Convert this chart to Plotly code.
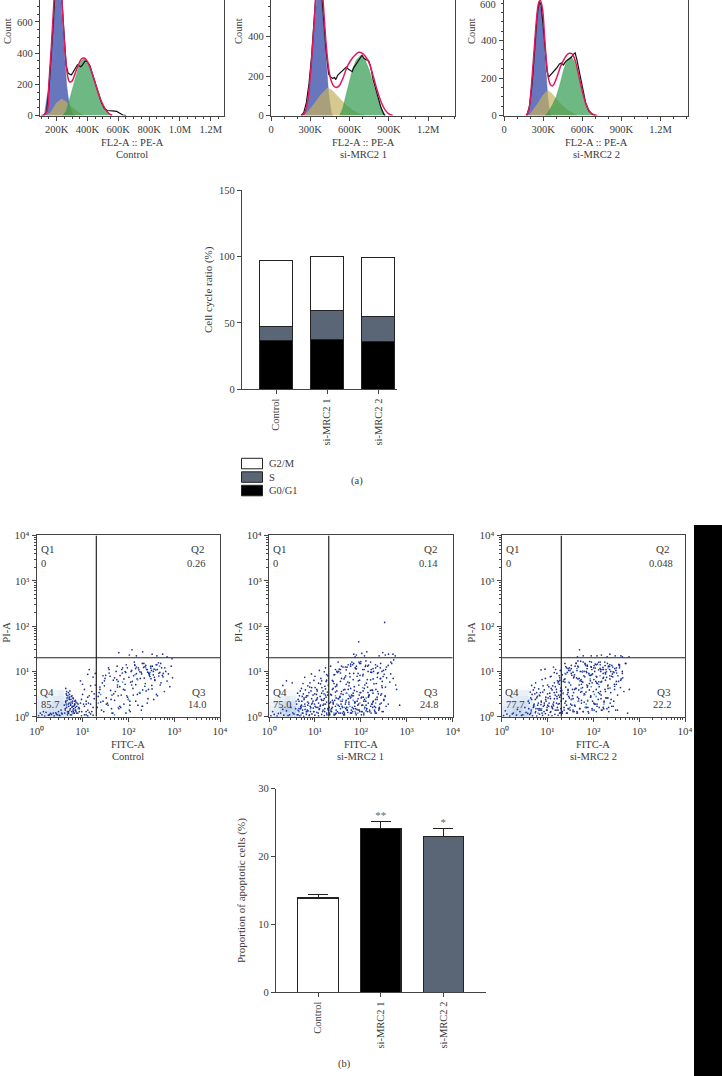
import plotly.graph_objects as go

W, H = 722, 1076
SERIF = "Liberation Serif"
INK = "#3a3a3a"

# ---- Flow histograms: x in thousands, y in counts ----
ctrl_g1_x = [120, 130, 150, 165, 180, 195, 207, 220, 235, 250, 265, 280, 300, 320]
ctrl_g1_y = [0, 59, 203, 400, 644, 842, 900, 832, 627, 385, 192, 78, 17, 0]
ctrl_s_x = [135, 160, 180, 200, 232, 260, 290, 320, 350, 380]
ctrl_s_y = [0, 18, 50, 82, 105, 90, 60, 35, 14, 0]
ctrl_g2_x = [240, 260, 280, 300, 320, 340, 360, 375, 395, 415, 435, 455, 475, 495, 515, 535, 560]
ctrl_g2_y = [0, 25, 90, 160, 235, 305, 350, 365, 350, 310, 250, 185, 125, 75, 40, 15, 0]
ctrl_fit_x = [100, 120, 140, 150, 165, 180, 195, 207, 220, 235, 250, 265, 275, 285, 300, 320, 340, 360, 380, 400, 420, 440, 460, 480, 500, 520, 540, 560]
ctrl_fit_y = [0, 5, 35, 211, 430, 690, 910, 985, 925, 730, 470, 300, 235, 215, 220, 270, 320, 362, 368, 345, 300, 240, 175, 115, 70, 35, 12, 2]
ctrl_raw_x = [115, 135, 150, 165, 180, 195, 205, 220, 235, 250, 262, 275, 285, 295, 305, 320, 335, 345, 355, 365, 375, 385, 400, 415, 430, 450, 470, 490, 510, 530, 560, 590, 610, 630, 650]
ctrl_raw_y = [0, 25, 170, 390, 680, 900, 1000, 940, 720, 480, 320, 270, 265, 260, 275, 300, 325, 318, 312, 320, 335, 350, 345, 320, 275, 210, 140, 85, 45, 32, 30, 26, 15, 3, 0]

mrc1_g1_x = [250, 270, 290, 310, 330, 350, 362, 380, 400, 420, 440, 460, 470]
mrc1_g1_y = [0, 40, 130, 290, 480, 640, 690, 640, 470, 270, 110, 15, 0]
mrc1_s_x = [250, 290, 330, 380, 432, 470, 520, 570, 620, 670, 720]
mrc1_s_y = [0, 25, 60, 105, 140, 125, 90, 55, 28, 10, 0]
mrc1_g2_x = [525, 550, 575, 600, 625, 650, 686, 720, 750, 780, 810, 840, 875]
mrc1_g2_y = [0, 40, 110, 180, 240, 280, 305, 280, 230, 160, 95, 40, 0]
mrc1_fit_x = [235, 255, 280, 300, 320, 340, 362, 380, 400, 420, 440, 460, 480, 500, 520, 550, 580, 610, 640, 670, 690, 720, 750, 780, 810, 840, 870, 900, 930]
mrc1_fit_y = [0, 10, 75, 200, 380, 580, 800, 740, 560, 370, 240, 175, 148, 142, 150, 190, 245, 280, 305, 320, 318, 300, 265, 200, 130, 70, 30, 8, 0]
mrc1_raw_x = [230, 250, 270, 290, 310, 330, 350, 370, 385, 400, 420, 440, 455, 470, 485, 495, 510, 525, 540, 560, 575, 590, 605, 620, 630, 645, 660, 680, 695, 710, 725, 745, 760, 780, 800, 820, 840, 860, 870]
mrc1_raw_y = [0, 15, 65, 160, 300, 480, 680, 760, 650, 500, 330, 210, 195, 188, 192, 182, 205, 215, 225, 240, 245, 235, 228, 222, 240, 255, 268, 295, 305, 290, 282, 278, 250, 180, 130, 80, 40, 8, 0]

mrc2_g1_x = [175, 195, 215, 235, 250, 265, 275, 290, 305, 320, 335, 350, 360]
mrc2_g1_y = [0, 40, 160, 340, 490, 585, 605, 540, 400, 240, 100, 15, 0]
mrc2_s_x = [190, 220, 260, 300, 334, 370, 410, 450, 490, 530, 560]
mrc2_s_y = [0, 25, 65, 110, 135, 115, 80, 50, 27, 10, 0]
mrc2_g2_x = [315, 340, 370, 400, 430, 455, 480, 510, 535, 560, 585, 610, 635, 660, 685]
mrc2_g2_y = [0, 20, 55, 100, 170, 240, 290, 315, 295, 240, 170, 100, 50, 18, 0]
mrc2_fit_x = [170, 190, 210, 230, 250, 265, 278, 295, 310, 325, 340, 355, 370, 385, 410, 435, 460, 480, 500, 520, 540, 565, 590, 615, 640, 665, 695, 715]
mrc2_fit_y = [0, 30, 160, 340, 520, 600, 615, 570, 430, 290, 200, 165, 158, 170, 215, 265, 300, 322, 332, 330, 305, 240, 160, 90, 40, 15, 3, 0]
mrc2_raw_x = [175, 195, 215, 235, 255, 270, 285, 300, 315, 330, 342, 355, 370, 385, 405, 425, 440, 455, 475, 495, 515, 530, 545, 558, 575, 600, 625, 650, 675, 700]
mrc2_raw_y = [0, 50, 170, 350, 540, 610, 590, 480, 340, 235, 205, 215, 225, 240, 255, 275, 280, 270, 290, 300, 310, 325, 335, 300, 240, 140, 70, 25, 8, 0]

# ---- Stacked cell cycle bars ----
groups = ["Control", "si-MRC2 1", "si-MRC2 2"]
g0g1_pct = [36.5, 37.5, 36]
s_pct = [11, 21.5, 19]
g2m_pct = [49.5, 41, 44]

# ---- Apoptosis bars ----
apoptotic_pct = [13.9, 24.1, 23.0]
apoptotic_err = [0.5, 1.1, 1.2]
apoptotic_marks = ["", "**", "*"]

# ---- Annexin scatter points ----
ctrl_x = [4.1, 4.3, 4.5, 4.8, 5.0, 5.2, 5.5, 5.8, 6.1, 6.4, 6.8, 7.2, 7.6, 4.2, 4.6, 4.9, 5.3, 5.7, 6.0, 6.5, 7.0, 4.4, 4.7, 5.1, 5.4, 5.9, 6.3, 6.9, 4.0, 4.5, 5.0, 5.6, 6.2, 6.7, 7.4, 8.0, 8.5, 9.0, 4.3, 5.2,
          1.1, 1.3, 1.5, 1.8, 2.1, 2.4, 2.8, 3.2, 3.6, 1.2, 1.6, 2.0, 2.6, 3.0, 3.4, 9.5, 11, 13, 15, 17, 12, 14,
          8.5, 9.5, 10, 11, 12, 13, 14, 15, 16, 17, 18, 19, 11, 13, 15, 17, 10, 12, 14, 9, 16, 18, 19, 13,
          21, 23, 25, 27, 29, 31, 33, 36, 38, 41, 44, 47, 50, 54, 58, 62, 66, 70, 75, 80, 85, 90, 96, 103, 110, 118, 126, 135, 145, 155, 166, 178, 190, 204, 218, 234, 250, 268, 287, 307, 329, 352, 377, 404, 432, 463, 496, 531, 569, 610, 653, 700, 750, 803, 860, 922,
          22, 26, 30, 35, 40, 46, 52, 60, 68, 78, 88, 100, 112, 128, 144, 162, 182, 205, 230, 258, 290, 325, 365, 410, 460, 515, 578,
          24, 32, 43, 56, 72, 92, 118, 150, 192, 245, 312, 398, 508, 28, 37, 48, 65, 85, 108, 138, 175, 222, 282, 358, 455,
          62, 105, 120, 150, 205, 330, 420, 560, 700, 900]
ctrl_y = [1.2, 2.1, 1.6, 2.9, 1.3, 2.4, 1.8, 1.1, 2.2, 1.5, 1.9, 1.3, 2.0, 1.5, 2.6, 1.9, 1.4, 2.8, 1.7, 1.2, 2.3, 3.2, 1.3, 2.0, 1.1, 1.6, 2.5, 1.4, 1.8, 3.6, 1.2, 2.1, 1.4, 1.8, 1.2, 1.9, 1.3, 2.0, 4.2, 3.1,
          1.05, 1.1, 1.03, 1.08, 1.12, 1.04, 1.1, 1.06, 1.15, 1.2, 1.25, 1.18, 1.22, 1.3, 1.4, 1.05, 1.1, 1.04, 1.15, 1.08, 1.3, 1.25,
          1.5, 2.4, 3.1, 1.7, 2.2, 1.4, 2.9, 1.9, 3.6, 1.6, 2.5, 5.0, 4.0, 2.7, 4.8, 7.5, 5.2, 1.9, 11, 6.2, 1.3, 3.2, 9.0, 8.6,
          1.6, 3.4, 2.1, 5.6, 1.3, 7.0, 2.6, 1.8, 9.2, 3.8, 1.2, 6.4, 2.3, 10, 4.5, 1.5, 8.1, 3.0, 12, 1.9, 5.2, 14, 2.7, 7.4, 1.3, 10.5, 4.2, 16, 2.2, 6.8, 12, 3.3, 9.6, 1.7, 15, 5.4, 11, 2.5, 8.2, 13, 4.1, 10, 6.3, 14, 2.9, 9.1, 5.0, 12, 7.6, 3.6, 10, 6.1, 8.8, 4.6, 13, 7.2,
          2.8, 1.4, 4.8, 2.0, 7.8, 1.2, 3.6, 6.0, 1.6, 4.0, 9.5, 2.4, 5.8, 3.0, 11.5, 1.8, 7.0, 3.9, 12.8, 2.0, 8.6, 4.9, 11.2, 3.1, 7.9, 5.6, 9.0,
          4.0, 8.2, 1.5, 6.6, 11, 2.9, 5.0, 8.9, 1.4, 3.7, 6.9, 10.8, 15, 2.2, 12, 3.2, 4.6, 9.9, 1.8, 13.6, 3.4, 7.1, 9.3, 2.4, 15.5,
          26, 23, 30, 22, 27, 24, 22, 24, 21, 19]
ctrl_more_x = [4.2, 4.4, 4.6, 4.8, 5.0, 5.2, 5.4, 5.6, 5.8, 6.0,
               6.2, 6.4, 6.6, 6.8, 7.0, 7.2, 4.3, 4.7, 5.1, 5.5,
               5.9, 6.3, 6.7, 7.1, 7.5, 7.9, 8.3, 4.5, 4.9, 5.3,
               1.4, 1.9, 2.3, 2.7, 3.1, 3.5, 9.6, 10.5, 12, 13.5,
               24, 28, 33, 38, 44, 50, 57, 65, 74, 84,
               95, 108, 122, 138, 157, 178, 202, 229, 260, 295,
               334, 379, 430, 487, 552, 625, 115, 150, 195, 240,
               280, 320, 370, 420, 130, 170, 215, 265, 310, 350,
               30, 42, 58, 80, 105, 145, 200, 275, 60, 88]
ctrl_more_y = [1.4, 1.9, 2.3, 1.2, 1.7, 2.7, 1.5, 2.4, 1.3, 2.0,
               2.6, 1.7, 1.2, 2.2, 1.6, 2.1, 2.2, 1.1, 2.5, 1.9,
               2.9, 1.3, 1.9, 1.4, 1.7, 1.2, 1.6, 3.0, 3.4, 3.7,
               1.3, 1.1, 1.2, 1.15, 1.08, 1.2, 1.3, 1.9, 1.1, 2.0,
               4.5, 8.0, 1.9, 11, 3.0, 7.2, 13, 1.7, 9.2, 3.9,
               12, 2.2, 6.0, 14, 3.1, 9.8, 15, 4.7, 11, 7.7,
               13, 6.5, 11, 9.5, 8.2, 12, 10, 12.5, 8.8, 13.5,
               9.0, 10.5, 7.4, 14, 8.0, 10.8, 12.2, 9.6, 11.8, 8.4,
               6.2, 2.4, 5.0, 6.8, 1.4, 5.1, 1.7, 4.0, 2.9, 1.2]
ctrl_light_x = [25, 50, 75, 100, 140, 180, 240, 300, 400, 480, 6, 5, 4.5, 8, 60, 90, 160, 22]
ctrl_light_y = [3.1, 1.1, 5.8, 2.4, 8.5, 3.4, 12, 9.5, 11, 13, 1.2, 2.6, 1.8, 1.5, 1.6, 1.2, 6.5, 2.0]

mrc1_x = [1.1, 1.3, 1.5, 1.8, 2.1, 2.4, 2.8, 3.3, 3.8, 1.2, 1.6, 2.0, 2.6, 3.0, 3.5, 4.1, 4.4, 4.7, 5.0, 5.3, 5.7, 6.1, 6.5, 7.0, 7.5, 8.0, 8.6, 9.2, 10, 11, 12, 13, 14, 15, 16, 17, 18, 19,
          4.0, 4.3, 4.6, 4.9, 5.2, 5.6, 6.0, 6.4, 6.9, 7.4, 7.9, 8.5, 9.1, 9.8, 10.5, 11.2, 12, 13, 14, 15, 16, 17, 18, 19,
          4.2, 4.8, 5.4, 6.2, 7.1, 8.2, 9.4, 10.8, 12.4, 14.2, 16.3, 18.7, 4.5, 5.1, 5.8, 6.7, 7.7, 8.8, 10.1, 11.6, 13.3, 15.3, 17.5, 5.5, 6.6, 7.8, 9.5, 11, 13.5, 15.8, 18, 19.5,
          6, 7, 8.5, 10, 12, 14, 16, 18, 12.5, 15, 17, 19, 11, 13.8, 16.5, 2.0, 2.4, 3.2, 8.4, 9.9, 17,
          21, 22, 23, 24, 25, 26, 27, 28, 29, 30, 32, 33, 35, 36, 38, 40, 42, 44, 46, 48, 50, 52, 55, 57, 60, 63, 66, 69, 72, 75, 79, 83, 87, 91, 95, 100, 105, 110, 116, 122, 128, 134, 141, 148, 155, 163, 171, 180, 189, 198, 208, 218, 229, 240, 252, 265, 278, 292, 307, 322, 338, 355,
          21, 23, 25, 27, 29, 31, 34, 37, 40, 43, 47, 51, 55, 60, 65, 70, 76, 82, 89, 96, 104, 113, 122, 132, 143, 155, 168, 182, 197, 213, 231, 250, 271, 293, 317, 344,
          22, 24, 26, 28, 30, 33, 36, 39, 42, 45, 49, 53, 58, 63, 68, 74, 80, 87, 94, 102, 110, 119, 129, 140, 152, 164, 178, 193, 209, 226, 245, 265, 287, 311, 337, 365, 395, 428,
          20.5, 22, 25, 28, 32, 36, 41, 47, 53, 60, 68, 77, 87, 99, 112, 127, 144, 163, 185, 210, 238, 270, 306, 347, 393, 446, 506, 574, 470, 520, 600, 700,
          70, 80, 90, 105, 120, 135, 250, 300, 330, 400, 500, 560, 75, 340]
mrc1_y = [1.05, 1.12, 1.03, 1.2, 1.08, 1.35, 1.1, 1.22, 1.5, 1.3, 1.18, 1.45, 1.06, 1.6, 1.15, 1.1, 1.35, 1.05, 1.6, 1.2, 1.02, 1.45, 1.12, 1.8, 1.06, 1.3, 1.15, 1.55, 1.08, 1.25, 1.04, 1.7, 1.12, 1.4, 1.06, 1.9, 1.2, 1.5,
          1.9, 2.4, 2.9, 1.7, 2.2, 3.2, 1.9, 2.7, 2.1, 3.4, 1.7, 2.5, 3.0, 1.9, 2.3, 3.7, 2.0, 2.8, 3.3, 1.8, 2.5, 4.1, 2.1, 3.0,
          3.3, 3.7, 1.4, 3.9, 1.35, 3.7, 1.3, 3.1, 1.45, 4.4, 1.3, 3.5, 1.5, 4.2, 2.6, 1.3, 4.5, 2.0, 4.4, 1.6, 5.3, 2.3, 6.0, 5.4, 2.9, 5.6, 6.3, 2.4, 7.0, 3.2, 8.5, 5.0,
          7.4, 4.8, 4.4, 7.8, 5.5, 6.2, 9.8, 6.4, 10.5, 3.7, 12, 8.0, 4.0, 2.4, 4.7, 4.9, 6.2, 5.6, 8.8, 3.2, 3.0,
          1.2, 3.1, 1.5, 6.3, 2.1, 1.1, 8.5, 3.5, 1.4, 5.2, 1.8, 10, 2.7, 1.2, 7.0, 1.6, 3.9, 1.1, 12.5, 2.3, 1.4, 5.8, 1.9, 9.0, 1.2, 3.0, 14, 1.5, 4.6, 2.1, 1.1, 7.8, 2.5, 16, 1.3, 3.4, 1.8, 11, 1.2, 5.0, 2.2, 1.5, 13, 2.8, 1.3, 6.5, 1.9, 3.8, 10, 1.4, 2.4, 1.2, 7.4, 3.2, 1.6, 12, 2.0, 4.4, 1.3, 8.6, 2.8, 1.7,
          2.0, 1.3, 4.2, 1.1, 2.6, 9.5, 1.7, 3.2, 1.2, 6.8, 2.1, 1.4, 4.8, 1.2, 2.9, 15, 1.5, 3.6, 1.9, 8.2, 1.3, 2.7, 1.6, 5.5, 3.4, 1.4, 11, 2.1, 1.7, 4.0, 9.0, 1.5, 3.0, 6.0, 2.3, 4.5,
          1.4, 2.3, 5.4, 1.7, 3.7, 1.2, 11, 2.2, 1.3, 4.0, 1.6, 2.5, 7.6, 1.2, 3.3, 2.0, 13, 1.4, 6.4, 2.6, 1.8, 4.2, 17, 1.3, 3.0, 9.6, 1.9, 5.3, 14, 2.4, 1.4, 6.9, 4.8, 10.5, 2.9, 7.2, 1.9, 5.8,
          1.6, 13, 6.0, 11, 16, 9.2, 12.5, 8.0, 14, 13, 6.6, 11.5, 9.0, 15, 8.6, 13.5, 10, 16, 6.8, 12, 9.4, 15, 7.7, 11, 13.5, 8.8, 7.0, 5.0, 15, 18, 4.0, 1.8,
          24, 23, 45, 25, 22, 27, 22, 26, 120, 24, 24, 22, 21, 23]
mrc1_more_x = [21, 24, 27, 31, 35, 39, 44, 49, 55, 62,
               69, 77, 86, 96, 107, 120, 134, 150, 167, 187,
               209, 233, 260, 290, 23, 29, 37, 47, 59, 74,
               93, 116, 145, 181, 226, 282, 25, 33, 42, 53,
               66, 83, 104, 130, 162, 203, 254, 318, 22, 28,
               36, 45, 56, 70, 88, 110, 138, 172, 216, 270,
               30, 38, 48, 60, 75, 94, 118, 147, 184, 230,
               288, 360, 450, 26, 34, 50, 64, 80, 100, 125,
               4.3, 4.9, 5.5, 6.1, 6.8, 7.6, 8.5, 9.5, 10.6, 11.8,
               13.2, 14.7, 16.4, 18.3, 4.5, 5.1, 5.8, 6.5, 7.3, 8.1,
               9.1, 10.1, 11.3, 12.6, 14.1, 15.7, 17.5, 19.5, 5.3, 7.0,
               22, 25, 28, 32, 36, 41, 46, 52, 58, 65,
               73, 82, 92, 103, 116, 130, 146, 164, 184, 206,
               24, 30, 38, 48, 60, 72, 90, 112, 140, 175]
mrc1_more_y = [1.1, 1.6, 2.3, 1.3, 2.8, 1.7, 1.2, 3.3, 2.1, 1.4,
               2.9, 1.2, 1.8, 3.4, 1.3, 2.4, 1.5, 3.0, 1.2, 2.2,
               1.6, 3.6, 1.9, 1.3, 3.0, 1.2, 1.9, 1.5, 2.6, 1.7,
               1.4, 1.1, 2.0, 1.6, 2.7, 3.2, 1.9, 2.5, 1.1, 4.0,
               1.3, 2.2, 2.7, 1.8, 3.8, 1.3, 1.5, 2.4, 2.1, 4.6,
               6.0, 7.4, 5.6, 9.0, 6.2, 8.0, 6.6, 9.5, 5.4, 7.0,
               10, 13, 10.8, 14.5, 12, 15, 11, 13.8, 11.5, 13,
               10, 12.5, 16, 8.4, 11.2, 12.4, 16, 11.4, 16.5, 12.8,
               1.1, 1.5, 1.2, 1.7, 1.4, 1.1, 1.9, 1.3, 1.6, 1.2,
               1.8, 1.3, 1.5, 1.1, 2.2, 1.8, 2.4, 1.3, 2.0, 1.6,
               2.2, 1.7, 2.6, 1.5, 2.3, 1.9, 2.7, 1.4, 2.8, 2.9,
               1.35, 2.0, 1.15, 2.5, 1.5, 3.1, 1.9, 1.25, 2.8, 1.6,
               2.1, 1.45, 3.0, 1.1, 2.2, 1.35, 2.7, 1.7, 3.3, 1.2,
               4.0, 4.8, 3.6, 5.2, 4.2, 3.8, 5.0, 3.7, 4.5, 3.9]
mrc1_light_x = [22, 30, 40, 52, 62, 75, 95, 120, 34, 48, 58, 68, 86, 4.5, 5.5, 6.5, 8, 7, 28, 44, 130, 160, 210, 3.9, 4.2, 5, 26, 36, 55, 110]
mrc1_light_y = [1.4, 1.9, 2.4, 1.6, 2.7, 1.3, 2.0, 1.5, 1.2, 3.3, 1.7, 2.3, 1.2, 1.3, 1.7, 1.2, 1.5, 2.1, 2.9, 1.6, 2.6, 1.3, 2.0, 2.2, 1.4, 1.1, 1.2, 2.2, 3.0, 4.4]

mrc2_x = [1.1, 1.3, 1.5, 1.8, 2.1, 2.5, 2.9, 3.4, 3.9, 1.2, 1.7, 2.2, 2.7, 3.2, 3.7, 4.1, 4.4, 4.7, 5.0, 5.4, 5.8, 6.2, 6.7, 7.2, 7.8, 8.4, 9.0, 9.8, 10.5, 11.5, 12.5, 13.5, 14.5, 16, 17, 18, 19,
          4.0, 4.3, 4.6, 5.0, 5.4, 5.8, 6.3, 6.8, 7.3, 7.9, 8.5, 9.2, 10, 10.8, 11.6, 12.6, 13.6, 14.7, 15.8, 17, 18.4, 19.5,
          4.2, 4.9, 5.6, 6.4, 7.4, 8.5, 9.8, 11.2, 12.9, 14.8, 17, 19.2, 5.2, 6.0, 6.9, 8.0, 9.3, 10.7, 12.3, 14.1, 16.2, 18.6, 3.8, 4.5, 5.5, 6.6, 7.6, 9.0, 10.3, 12, 14, 16, 18, 19.7,
          11.5, 13, 15, 17, 18.5, 14, 16.5, 19, 12, 10, 8.8, 7.2, 16, 18, 13.5, 15.6, 17.6, 19.3,
          21, 22, 23, 24, 25, 26, 27, 28, 29, 30, 32, 33, 35, 36, 38, 40, 42, 44, 46, 48, 50, 52, 55, 57, 60, 63, 66, 69, 72, 75, 79, 83, 87, 91, 95, 100, 105, 110, 116, 122, 128, 134, 141, 148, 155, 163, 171, 180, 189, 198, 208, 218, 229, 240, 252, 265, 278, 292, 307, 322, 338, 355, 372, 390,
          21, 23, 25, 27, 29, 31, 34, 37, 40, 43, 47, 51, 55, 60, 65, 70, 76, 82, 89, 96, 104, 113, 122, 132, 143, 155, 168, 182, 197, 213, 231, 250, 271, 293, 317, 344, 372, 404,
          22, 24, 26, 28, 30, 33, 36, 39, 42, 45, 49, 53, 58, 63, 68, 74, 80, 87, 94, 102, 110, 119, 129, 140, 152, 164, 178, 193, 209, 226, 245, 265, 287, 311, 337, 365, 395, 428, 464, 500,
          20.5, 24, 28, 33, 39, 46, 54, 63, 74, 87, 102, 120, 141, 166, 195, 229, 270, 317, 372, 437, 514, 560, 610,
          45, 50, 60, 90, 120, 150, 200, 300, 430, 600, 230, 400]
mrc2_y = [1.06, 1.14, 1.03, 1.2, 1.08, 1.3, 1.1, 1.24, 1.5, 1.35, 1.15, 1.45, 1.07, 1.6, 1.18, 1.12, 1.4, 1.05, 1.65, 1.22, 1.03, 1.5, 1.14, 1.85, 1.07, 1.3, 1.17, 1.6, 1.09, 1.25, 1.05, 1.75, 1.13, 1.4, 1.07, 1.95, 1.22,
          2.0, 2.6, 3.1, 1.8, 2.4, 3.4, 2.0, 2.9, 2.2, 3.5, 1.8, 2.7, 3.2, 2.0, 2.5, 3.9, 2.1, 3.0, 3.5, 1.9, 2.7, 4.3,
          3.5, 3.9, 1.5, 4.1, 1.4, 3.9, 1.4, 3.3, 1.5, 4.6, 1.4, 3.7, 4.4, 2.8, 1.4, 4.8, 2.2, 4.6, 1.7, 5.6, 2.5, 6.4, 2.2, 4.9, 5.6, 3.0, 6.6, 7.0, 2.6, 7.8, 3.4, 9.0, 5.2, 2.2,
          7.6, 4.8, 11, 5.6, 7.2, 9.4, 6.2, 10.5, 4.2, 5.0, 11.2, 10.8, 2.8, 8.0, 12.5, 4.0, 6.0, 3.0,
          1.3, 3.3, 1.6, 6.8, 2.2, 1.2, 9.5, 3.8, 1.5, 5.6, 1.9, 11.5, 2.9, 1.3, 7.6, 1.7, 4.2, 1.2, 13, 2.5, 1.5, 6.2, 2.0, 9.8, 1.3, 3.2, 14.5, 1.6, 5.0, 2.3, 1.2, 8.2, 2.7, 16, 1.4, 3.6, 1.9, 11.8, 1.3, 5.4, 2.4, 1.6, 14, 3.0, 1.4, 7.0, 2.1, 4.0, 11, 1.5, 2.6, 1.3, 8.0, 3.4, 1.7, 12.5, 2.2, 4.7, 1.4, 9.2, 3.0, 6.0, 12, 4.4,
          8.4, 1.4, 4.5, 1.2, 2.8, 10.5, 1.8, 3.4, 13, 7.2, 2.2, 1.5, 5.2, 16, 3.1, 10, 1.6, 3.9, 12.8, 8.8, 1.4, 6.0, 14.5, 5.9, 3.6, 11, 1.5, 9.4, 2.6, 13, 4.3, 7.8, 1.7, 11.5, 5.2, 8.0, 14, 6.8,
          2.5, 5.8, 1.8, 4.0, 12, 2.4, 1.4, 8.4, 15, 2.7, 7.0, 3.5, 10, 2.1, 13.5, 4.5, 9.0, 2.8, 5.6, 2.0, 14.5, 7.5, 3.4, 11.6, 6.0, 1.6, 16, 9.8, 4.2, 12.8, 2.4, 7.6, 5.2, 10.5, 1.4, 13.8, 6.4, 10, 3.6, 15,
          3.8, 15, 11.5, 9.0, 4.0, 17, 6.6, 10, 13.8, 8.2, 12, 1.9, 16, 11, 7.4, 14, 9.8, 6.0, 13.2, 7.2, 15, 1.2, 4.0,
          21, 30, 22, 22, 22, 23, 21, 22, 21, 21, 24, 22]
mrc2_more_x = [21, 24, 27, 31, 35, 39, 44, 49, 55, 62,
               69, 77, 86, 96, 107, 120, 134, 150, 167, 187,
               209, 233, 260, 290, 23, 29, 37, 47, 59, 74,
               93, 116, 145, 181, 226, 282, 25, 33, 42, 53,
               66, 83, 104, 130, 162, 203, 254, 318, 360, 430,
               28, 36, 45, 56, 70, 88, 110, 138, 172, 216,
               30, 38, 48, 60, 75, 94, 118, 147, 184, 230,
               4.3, 4.9, 5.5, 6.1, 6.8, 7.6, 8.5, 9.5, 10.6, 11.8,
               13.2, 14.7, 16.4, 18.3, 4.5, 5.1, 5.8, 6.5, 7.3, 8.1,
               9.1, 10.1, 11.3, 12.6, 14.1, 15.7, 17.5, 19.5, 5.3, 7.0,
               22, 25, 28, 32, 36, 41, 46, 52, 58, 65,
               73, 82, 92, 103, 116, 130, 146, 164, 184, 206,
               26, 34, 44, 56, 72, 90, 115, 145, 185, 240]
mrc2_more_y = [1.2, 2.0, 3.1, 1.4, 4.0, 1.8, 1.3, 5.0, 2.3, 8.0,
               3.5, 1.3, 6.2, 2.2, 10, 1.7, 4.6, 1.4, 7.4, 2.6,
               5.0, 2.0, 8.8, 4.0, 6.6, 10.5, 7.2, 12.5, 5.8, 13,
               11, 14, 10, 13.4, 11, 9.5, 12.8, 13.6, 15.2, 16.8,
               15, 16.5, 13.4, 15.8, 12.2, 15, 13.6, 12, 14.2, 9.0,
               1.5, 2.5, 1.2, 3.6, 1.6, 2.9, 1.9, 3.2, 2.2, 1.6,
               2.6, 1.3, 3.9, 1.3, 4.8, 1.5, 5.6, 2.5, 3.6, 6.8,
               1.2, 1.6, 1.3, 1.8, 1.5, 1.2, 2.0, 1.4, 1.7, 1.3,
               1.9, 1.4, 1.6, 1.2, 2.4, 1.9, 2.6, 1.4, 2.1, 1.7,
               2.4, 1.8, 2.8, 1.6, 2.5, 2.0, 3.0, 1.5, 3.2, 3.4,
               6.0, 8.8, 3.4, 5.0, 9.6, 4.2, 6.8, 10, 4.4, 7.6,
               11.5, 5.4, 8.4, 6.6, 4.0, 10.8, 5.8, 9.0, 6.4, 4.8,
               12, 8.2, 10.4, 6.0, 9.4, 12.4, 7.8, 11, 8.8, 10]
mrc2_light_x = [22, 29, 38, 48, 58, 70, 85, 105, 130, 34, 44, 54, 66, 80, 95, 4.4, 5.2, 6.2, 7.4, 62, 75, 90, 140, 170, 210, 24, 31, 50, 115, 3.9]
mrc2_light_y = [3.2, 5.8, 8.2, 2.2, 10, 1.9, 6.8, 3.1, 5.2, 2.4, 11.5, 4.2, 1.6, 8.6, 1.4, 1.3, 1.7, 1.2, 1.5, 3.0, 2.2, 4.6, 8.0, 1.9, 12, 9.0, 1.6, 6.2, 2.8, 2.3]

# Pale smear behind the Q4 labels, read as rough shading per cell
cloud_x = [1, 1.3, 1.7, 2.2, 2.9, 3.8, 5]
cloud_y = [1, 1.3, 1.7, 2.2, 2.9, 3.8, 5]
ctrl_cloud = [[6, 7, 7, 8, 8, 7], [5, 6, 7, 7, 7, 6], [5, 5, 6, 7, 7, 6], [4, 5, 5, 6, 6, 5], [3, 3, 4, 4, 5, 3], [0, 0, 1, 1, 2, 1]]
mrc1_cloud = [[5, 6, 7, 8, 8, 6], [5, 6, 8, 9, 8, 6], [4, 6, 7, 8, 7, 5], [2, 4, 5, 6, 5, 3], [0, 1, 2, 3, 3, 2], [0, 0, 0, 1, 1, 1]]
mrc2_cloud = [[6, 7, 8, 8, 8, 6], [6, 7, 8, 8, 7, 6], [5, 6, 7, 7, 7, 5], [4, 5, 6, 6, 6, 4], [1, 2, 4, 5, 5, 3], [0, 0, 1, 2, 2, 2]]

q4_labels = ["85.7", "75.0", "77.7"]
q3_labels = ["14.0", "24.8", "22.2"]
q2_labels = ["0.26", "0.14", "0.048"]

GATE_FITC = 20
GATE_PI = 20


def px_x(x):
    return x / W


def px_y(y):
    return 1 - y / H


fig = go.Figure()
notes = []


def note(text, x, y, size=10.5, angle=0, anchor="center", color=INK):
    notes.append(dict(text=text, x=px_x(x), y=px_y(y), xref="paper", yref="paper", showarrow=False,
                      xanchor=anchor, yanchor="middle", textangle=angle,
                      font=dict(family=SERIF, size=size, color=color)))


def axis_base(left, right, size=10.5):
    return dict(showgrid=False, zeroline=False, showline=True, linecolor="#444", linewidth=1.2, automargin=False,
                ticks="outside", tickcolor="#444", ticklen=4, tickwidth=1,
                tickfont=dict(family=SERIF, size=size, color=INK), domain=[left, right], anchor=None)


def add_hist(n, left, right, xrange, yrange, xticks, xlabels, yticks, xminor,
             g1, s, g2, fit, raw, title_x, name):
    xa, ya = f"x{n}", f"y{n}"
    for (xs, ys), col in ((g1, "rgba(62,80,170,0.78)"), (s, "rgba(196,178,96,0.7)"), (g2, "rgba(42,150,72,0.68)")):
        fig.add_trace(go.Scatter(x=xs, y=ys, xaxis=xa, yaxis=ya, mode="lines", line=dict(width=0.5, color=col),
                                 fill="tozeroy", fillcolor=col, showlegend=False))
    fig.add_trace(go.Scatter(x=raw[0], y=raw[1], xaxis=xa, yaxis=ya, mode="lines",
                             line=dict(color="#111", width=1.2), showlegend=False))
    fig.add_trace(go.Scatter(x=fit[0], y=fit[1], xaxis=xa, yaxis=ya, mode="lines", line_shape="spline",
                             line=dict(color="#e0185c", width=1.5), showlegend=False))
    ax = axis_base(px_x(left), px_x(right))
    ax.update(range=xrange, tickmode="array", tickvals=xticks, ticktext=xlabels, anchor=ya,
              minor=dict(ticks="outside", ticklen=2, tickcolor="#444", dtick=xminor, tick0=0))
    ay = axis_base(px_y(115.5), 1.0)
    ay.update(range=yrange, tickmode="array", tickvals=yticks, anchor=xa, mirror=True,
              minor=dict(ticks="outside", ticklen=2, tickcolor="#444", dtick=50, tick0=0))
    fig.layout[f"xaxis{n}"] = ax
    fig.layout[f"yaxis{n}"] = ay
    note("Count", left - 33, 31, angle=-90)
    note("FL2-A :: PE-A", title_x, 142)
    note(name, title_x, 155)


add_hist(1, 40, 224, [92, 1286], [0, 740], [200, 400, 600, 800, 1000, 1200],
         ["200K", "400K", "600K", "800K", "1.0M", "1.2M"], [0, 200, 400, 600], 50,
         (ctrl_g1_x, ctrl_g1_y), (ctrl_s_x, ctrl_s_y), (ctrl_g2_x, ctrl_g2_y),
         (ctrl_fit_x, ctrl_fit_y), (ctrl_raw_x, ctrl_raw_y), 132, "Control")
add_hist(2, 271, 455, [0, 1405], [0, 585], [0, 300, 600, 900, 1200],
         ["0", "300K", "600K", "900K", "1.2M"], [0, 200, 400], 100,
         (mrc1_g1_x, mrc1_g1_y), (mrc1_s_x, mrc1_s_y), (mrc1_g2_x, mrc1_g2_y),
         (mrc1_fit_x, mrc1_fit_y), (mrc1_raw_x, mrc1_raw_y), 364, "si-MRC2 1")
add_hist(3, 504, 688, [0, 1410], [0, 617], [0, 300, 600, 900, 1200],
         ["0", "300K", "600K", "900K", "1.2M"], [0, 200, 400], 100,
         (mrc2_g1_x, mrc2_g1_y), (mrc2_s_x, mrc2_s_y), (mrc2_g2_x, mrc2_g2_y),
         (mrc2_fit_x, mrc2_fit_y), (mrc2_raw_x, mrc2_raw_y), 596, "si-MRC2 2")
# plotly drops this tick label because it sits on the page edge
note("600", 498, 4, anchor="right")

# Stacked cell cycle bars
for vals, col, name in ((g0g1_pct, "#000000", "G0/G1"), (s_pct, "#5a6575", "S"), (g2m_pct, "#ffffff", "G2/M")):
    fig.add_trace(go.Bar(x=groups, y=vals, xaxis="x4", yaxis="y4", name=name, width=0.66,
                         marker=dict(color=col, line=dict(color="#222", width=1)), showlegend=False))
ax4 = axis_base(px_x(242), px_x(397))
ax4.update(range=[-0.667, 2.37], anchor="y4", type="category", tickangle=-90, categoryorder="array", categoryarray=groups)
ay4 = axis_base(px_y(389.3), px_y(190))
ay4.update(range=[0, 150], anchor="x4", tickmode="array", tickvals=[0, 50, 100, 150])
fig.layout["xaxis4"] = ax4
fig.layout["yaxis4"] = ay4
note("Cell cycle ratio (%)", 209, 290, size=11, angle=-90)
for top, col, name in ((458.3, "#ffffff", "G2/M"), (471.8, "#5a6575", "S"), (485.3, "#000000", "G0/G1")):
    fig.add_shape(type="rect", xref="paper", yref="paper", x0=px_x(241.5), x1=px_x(262.5), y0=px_y(top), y1=px_y(top + 10.5),
                  fillcolor=col, line=dict(color="#222", width=1))
    note(name, 267, top + 5.3, anchor="left")
note("(a)", 357, 481)


def add_flow(n, left, right, pts_x, pts_y, light_x, light_y, cloud, q2, q3, q4, name, show_dx):
    xa, ya = f"x{n}", f"y{n}"
    fig.add_trace(go.Heatmap(x=cloud_x, y=cloud_y, z=cloud, xaxis=xa, yaxis=ya, showscale=False, zmin=0, zmax=10,
                             colorscale=[[0, "rgba(255,255,255,0)"], [1, "#a9c3e2"]], hoverinfo="skip"))
    fig.add_trace(go.Scatter(x=pts_x, y=pts_y, xaxis=xa, yaxis=ya, mode="markers",
                             marker=dict(color="#1d2f94", size=1.7), showlegend=False))
    fig.add_trace(go.Scatter(x=light_x, y=light_y, xaxis=xa, yaxis=ya, mode="markers",
                             marker=dict(color="#3f8fe0", size=1.7), showlegend=False))
    fig.add_trace(go.Scatter(x=[GATE_FITC, GATE_FITC], y=[1, 10000], xaxis=xa, yaxis=ya, mode="lines",
                             line=dict(color="#222", width=1.2), showlegend=False))
    fig.add_trace(go.Scatter(x=[1, 10000], y=[GATE_PI, GATE_PI], xaxis=xa, yaxis=ya, mode="lines",
                             line=dict(color="#222", width=1.2), showlegend=False))
    decades = [1, 10, 100, 1000, 10000]
    labels = ["10⁰", "10¹", "10²", "10³", "10⁴"]
    for key, dom, anchor in ((f"xaxis{n}", [px_x(left), px_x(right)], ya), (f"yaxis{n}", [px_y(716.7), px_y(535.4)], xa)):
        a = axis_base(dom[0], dom[1], size=11)
        a.update(type="log", range=[0, 4], tickmode="array", tickvals=decades, ticktext=labels, anchor=anchor, mirror=True,
                 minor=dict(ticks="outside", ticklen=2, tickcolor="#444",
                            tickmode="array", tickvals=[d * m for d in decades[:4] for m in (2, 3, 4, 5, 6, 7, 8, 9)]))
        fig.layout[key] = a
    note("Q1", left + 10.5, 549, size=11)
    note("0", left + 6.5, 563)
    note("Q2", left + 161, 549, size=11)
    note(q2, left + 159, 563)
    note("Q4", left + 10.5, 692, size=11)
    note(q4, left + 13, 704)
    note("Q3", left + 162, 692, size=11)
    note(q3, left + 160, 704)
    note("FITC-A", left + show_dx, 744)
    note(name, left + show_dx, 756)
    note("PI-A", left - 31, 632, angle=-90)


add_flow(5, 36.7, 220, ctrl_x + ctrl_more_x, ctrl_y + ctrl_more_y, ctrl_light_x, ctrl_light_y, ctrl_cloud, q2_labels[0], q3_labels[0], q4_labels[0], "Control", 91.5)
add_flow(6, 269, 452.7, mrc1_x + mrc1_more_x, mrc1_y + mrc1_more_y, mrc1_light_x, mrc1_light_y, mrc1_cloud, q2_labels[1], q3_labels[1], q4_labels[1], "si-MRC2 1", 91.5)
add_flow(7, 501.7, 685, mrc2_x + mrc2_more_x, mrc2_y + mrc2_more_y, mrc2_light_x, mrc2_light_y, mrc2_cloud, q2_labels[2], q3_labels[2], q4_labels[2], "si-MRC2 2", 91.5)

# Apoptosis bars
fig.add_trace(go.Bar(x=groups, y=apoptotic_pct, xaxis="x8", yaxis="y8", width=0.645,
                     marker=dict(color=["#ffffff", "#000000", "#5a6575"], line=dict(color="#222", width=1.2)),
                     error_y=dict(type="data", symmetric=False, array=apoptotic_err,
                                  arrayminus=[0, 0, 0], color="#222", thickness=1, width=10),
                     showlegend=False))
fig.add_trace(go.Scatter(x=groups, y=[a + e + 0.7 for a, e in zip(apoptotic_pct, apoptotic_err)], xaxis="x8", yaxis="y8",
                         mode="text", text=apoptotic_marks, textfont=dict(family=SERIF, size=11, color="#666"), showlegend=False))
ax8 = axis_base(px_x(276), px_x(486))
ax8.update(range=[-0.67, 2.68], anchor="y8", type="category", tickangle=-90, categoryorder="array", categoryarray=groups)
ay8 = axis_base(px_y(992.3), px_y(788.7))
ay8.update(range=[0, 30], anchor="x8", tickmode="array", tickvals=[0, 10, 20, 30])
fig.layout["xaxis8"] = ax8
fig.layout["yaxis8"] = ay8
note("Proportion of apoptotic cells (%)", 241, 890, size=11, angle=-90)
note("(b)", 344, 1064)

# Black strip down the right side of the page
fig.add_shape(type="rect", xref="paper", yref="paper", x0=px_x(694), x1=1, y0=0, y1=px_y(525),
              fillcolor="#000000", line=dict(width=0))

fig.update_layout(width=W, height=H, margin=dict(l=0, r=0, t=0, b=0), barmode="stack",
                  paper_bgcolor="white", plot_bgcolor="white", annotations=notes,
                  showlegend=False, font=dict(family=SERIF, size=10.5, color=INK))

# the default page keeps a body margin, which would push the figure off by 8px
fig.write_html("out.html", config=dict(displayModeBar=False),
               post_script="document.body.style.margin='0';document.body.style.overflow='hidden';")
